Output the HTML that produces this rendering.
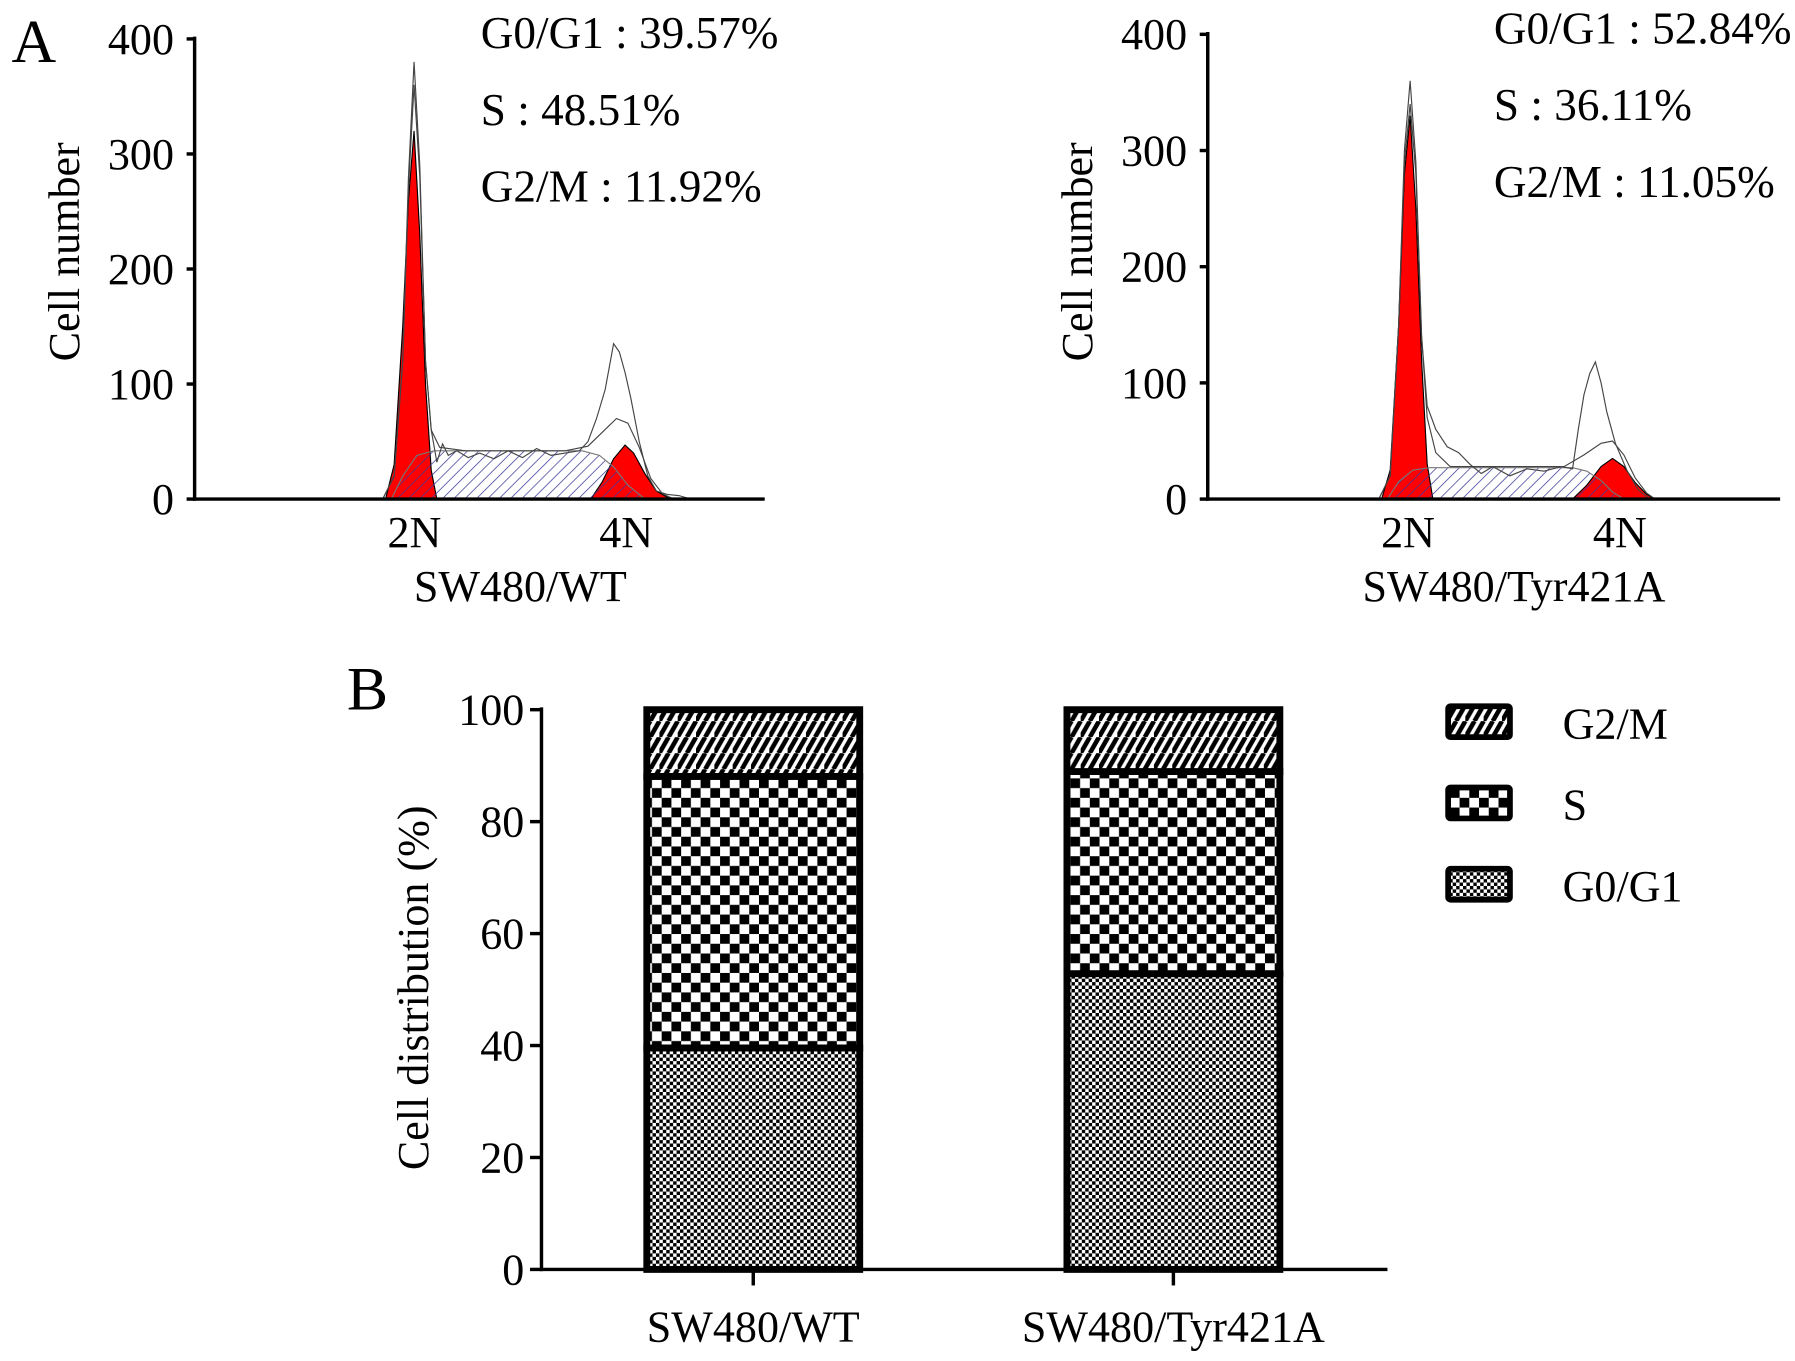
<!DOCTYPE html>
<html><head><meta charset="utf-8"><style>
html,body{margin:0;padding:0;background:#fff;}
svg{display:block;font-family:"Liberation Serif",serif;}
</style></head><body>
<svg id="fig" width="1795" height="1361" viewBox="0 0 1568 1189" preserveAspectRatio="none" xmlns="http://www.w3.org/2000/svg">
<defs>
<pattern id="hatchBlue" patternUnits="userSpaceOnUse" width="7" height="7" patternTransform="rotate(45)">
<rect width="7" height="7" fill="none"/><line x1="0" y1="0" x2="0" y2="7" stroke="#3b3b9a" stroke-width="1.3"/></pattern>
<pattern id="fineCheck" patternUnits="userSpaceOnUse" width="6" height="6">
<rect width="6" height="6" fill="#fff"/><rect width="3" height="3" fill="#000"/><rect x="3" y="3" width="3" height="3" fill="#000"/></pattern>
<pattern id="coarseCheck" patternUnits="userSpaceOnUse" width="17" height="17">
<rect width="17" height="17" fill="#fff"/><rect width="8.5" height="8.5" fill="#000"/><rect x="8.5" y="8.5" width="8.5" height="8.5" fill="#000"/></pattern>
<pattern id="diag" patternUnits="userSpaceOnUse" width="16" height="14">
<rect width="16" height="14" fill="#fff"/><path d="M0,14 L8,0 M8,14 L16,0 M-8,14 L0,0" stroke="#000" stroke-width="4"/></pattern>
</defs>
<g id="panelA"></g>
<g id="panelB"></g>
</svg>
<script>
// ---------- Panel A data (channel, count) ----------
const wtRaw = [[66,0],[70,20],[73,120],[75,280],[77,380],[79,290],[81,120],[83,60],[85,32],[87,48],[89,38],[92,42],[96,36],[100,40],[105,35],[110,42],[115,36],[120,44],[125,38],[130,40],[135,42],[138,50],[141,70],[144,95],[147,135],[149,128],[151,110],[153,88],[156,50],[159,20],[162,7],[166,4],[170,3],[174,0]];
const wtModel = [[66,0],[70,20],[73,120],[75,270],[77,360],[79,280],[81,120],[83,60],[86,45],[95,42],[130,42],[138,46],[143,58],[148,70],[152,66],[156,45],[160,18],[164,5],[168,0]];
const wtG1 = [[67,0],[70,30],[73,150],[75,260],[77,320],[79,230],[81,100],[83,25],[85,0]];
const wtS = [[69,0],[73,20],[78,38],[84,42],[136,42],[142,38],[147,28],[152,12],[158,0]];
const wtG2 = [[139,0],[143,15],[147,35],[151,47],[154,40],[158,22],[162,7],[167,0]];
const tyRaw = [[60,0],[64,20],[67,150],[69,300],[71,360],[73,290],[75,140],[77,80],[80,60],[84,45],[88,40],[92,30],[96,22],[100,28],[106,20],[112,26],[118,24],[124,28],[128,26],[130,60],[132,90],[134,108],[136,118],[138,100],[140,75],[143,48],[147,25],[151,8],[155,0]];
const tyModel = [[60,0],[64,20],[67,150],[69,290],[71,340],[73,280],[75,140],[77,70],[80,40],[85,28],[125,28],[132,38],[138,48],[142,50],[146,38],[150,18],[154,5],[157,0]];
const tyG1 = [[61,0],[64,25],[67,150],[69,280],[71,330],[73,250],[75,120],[77,30],[79,0]];
const tyS = [[63,0],[67,15],[72,25],[78,27],[128,27],[133,24],[138,16],[142,6],[146,0]];
const tyG2 = [[128,0],[133,12],[138,28],[142,35],[146,28],[150,14],[154,4],[157,0]];
const yTicksA = [0,100,200,300,400];
const wtStats = ["G0/G1 : 39.57%","S : 48.51%","G2/M : 11.92%"];
const tyStats = ["G0/G1 : 52.84%","S : 36.11%","G2/M : 11.05%"];

// ---------- Panel B data ----------
const groups = ["SW480/WT","SW480/Tyr421A"];
const g0g1 = [39.57, 52.84];
const sPhase = [48.51, 36.11];
const g2m = [11.92, 11.05];
const yTicksB = [0,20,40,60,80,100];
const legendLabels = ["G2/M","S","G0/G1"];

const NS="http://www.w3.org/2000/svg";
const FS=38.5, FSS=39.5;
function mk(tag, attrs, parent, txt){const e=document.createElementNS(NS,tag);for(const k in attrs)e.setAttribute(k,attrs[k]);if(txt!==undefined)e.textContent=txt;parent.appendChild(e);return e;}

function histPanel(parent, ox, y0, y400, x2N, x4N, axEnd, raw, model, g1, s, g2, stats, label, nameP){
  const g=mk('g',{},parent);
  
  
  const pxPerCh = 2.49;
  const X=c=>ox+c*pxPerCh;
  const Y=v=>y0-v*(y0-y400)/400;
  const path=(pts,close)=>{let d='M'+pts.map(p=>X(p[0]).toFixed(1)+','+Y(p[1]).toFixed(1)).join(' L');return close?d+' Z':d;};
  let e;
  e=mk('path',{d:path(g1,true),fill:'#ff0000',stroke:'#000','stroke-width':1},g);
   
  e=mk('path',{d:path(g2,true),fill:'#ff0000',stroke:'#000','stroke-width':1},g);
   
  e=mk('path',{d:path(s,true),fill:'url(#hatchBlue)',stroke:'#777','stroke-width':1},g);
   
  e=mk('path',{d:path(model,false),fill:'none',stroke:'#444','stroke-width':1},g);
   
  e=mk('path',{d:path(raw,false),fill:'none',stroke:'#444','stroke-width':1},g);
   
  e=mk('line',{x1:ox,y1:Y(400)-2,x2:ox,y2:y0+1.5,stroke:'#000','stroke-width':3},g);
   
  e=mk('line',{x1:ox-1.5,y1:y0,x2:axEnd,y2:y0,stroke:'#000','stroke-width':3},g);
   
  yTicksA.forEach(t=>{
    e=mk('line',{x1:ox-7,y1:Y(t),x2:ox,y2:Y(t),stroke:'#000','stroke-width':3},g);
     
    e=mk('text',{x:ox-18,y:Y(t)+13,'text-anchor':'end','font-size':FS},g,String(t));
     
  });
  e=mk('text',{x:x2N,y:478,'text-anchor':'middle','font-size':FS},g,'2N');
   
  e=mk('text',{x:x4N,y:478,'text-anchor':'middle','font-size':FS},g,'4N');
   
  e=mk('text',{x:(x2N+x4N)/2,y:525,'text-anchor':'middle','font-size':FS},g,label);
   
  e=mk('text',{x:0,y:0,'text-anchor':'middle','font-size':FS,transform:`translate(${ox-101},${y0-216}) rotate(-90)`},g,'Cell number');
   
  stats.forEach((st,i)=>{
    e=mk('text',{x:ox+250,y:y400+8+i*67,'font-size':FSS},g,st);
     
  });
}
const A=document.getElementById('panelA');
let lt=mk('text',{x:10,y:54,'font-size':54},A,'A');
 
histPanel(A,170,436,34,362,547,668,wtRaw,wtModel,wtG1,wtS,wtG2,wtStats,'SW480/WT','wt');
histPanel(A,1055,436,30,1230,1415,1555,tyRaw,tyModel,tyG1,tyS,tyG2,tyStats,'SW480/Tyr421A','tyr421a');

// ---------- Panel B ----------
const B=document.getElementById('panelB');
const bx0=473, by0=1109, by100=620, bxEnd=1212;
const YB=v=>by0-v*(by0-by100)/100;
const barCenters=[658,1025], barW=186;
let e=mk('text',{x:303,y:620,'font-size':54},B,'B');
 
const fills=['url(#fineCheck)','url(#coarseCheck)','url(#diag)'];
groups.forEach((gname,i)=>{
  const vals=[g0g1[i],sPhase[i],g2m[i]];
  const names=['g0g1','s','g2m'];
  let acc=0;
  const x=barCenters[i]-barW/2;
  vals.forEach((v,j)=>{
    const top=YB(acc+v), bot=YB(acc);
    const r=mk('rect',{x:x,y:top,width:barW,height:bot-top,fill:fills[j],stroke:'#000','stroke-width':6},B);
    
    
    acc+=v;
  });
  e=mk('line',{x1:barCenters[i],y1:by0,x2:barCenters[i],y2:by0+14,stroke:'#000','stroke-width':3},B);
   
  e=mk('text',{x:barCenters[i],y:1172,'text-anchor':'middle','font-size':FS},B,gname);
   
});
e=mk('line',{x1:bx0,y1:by100-2,x2:bx0,y2:by0+1.5,stroke:'#000','stroke-width':3},B);
 
e=mk('line',{x1:bx0-1.5,y1:by0,x2:bxEnd,y2:by0,stroke:'#000','stroke-width':3},B);
 
yTicksB.forEach(t=>{
  e=mk('line',{x1:bx0-10,y1:YB(t),x2:bx0,y2:YB(t),stroke:'#000','stroke-width':3},B);
   
  e=mk('text',{x:bx0-15,y:YB(t)+13,'text-anchor':'end','font-size':FS},B,String(t));
   
});
e=mk('text',{x:0,y:0,'text-anchor':'middle','font-size':FS,transform:`translate(374,863) rotate(-90)`},B,'Cell distribution (%)');
 
const legFills=['url(#diag)','url(#coarseCheck)','url(#fineCheck)'];
legendLabels.forEach((l,i)=>{
  const y=617+i*71;
  e=mk('rect',{x:1265,y:y,width:54,height:27,fill:legFills[i],stroke:'#000','stroke-width':5,rx:2},B);
   
  e=mk('text',{x:1365,y:y+28,'font-size':FS},B,l);
   
});
</script>
</body></html>
